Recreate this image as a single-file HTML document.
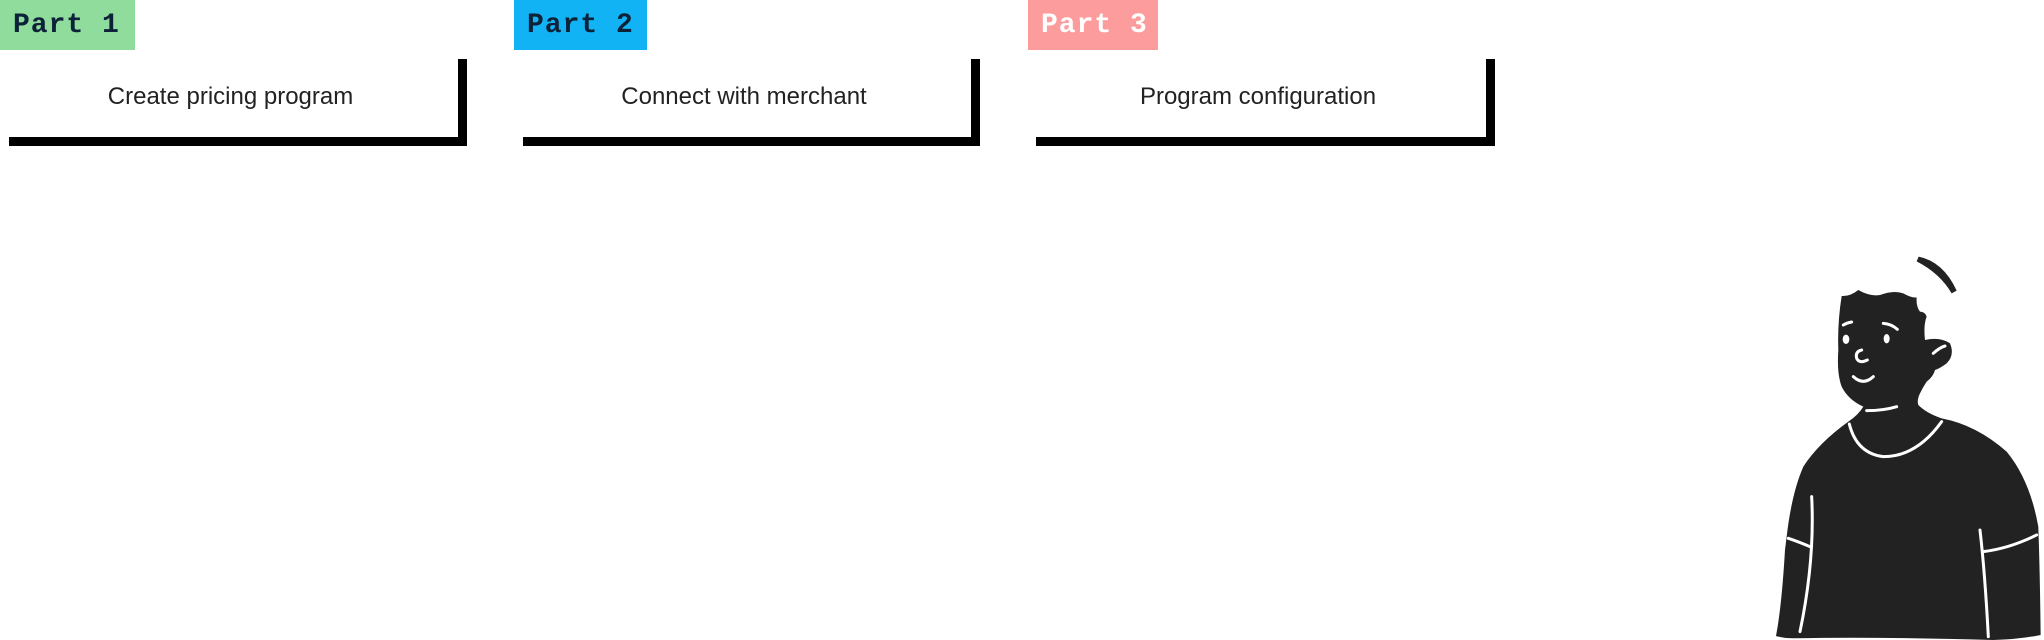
<!DOCTYPE html>
<html><head><meta charset="utf-8"><style>
body{margin:0;width:2044px;height:640px;background:#fff;position:relative;overflow:hidden;font-family:"Liberation Sans",sans-serif}
.tag{position:absolute;top:0;height:50px;font-family:"Liberation Mono",monospace;font-weight:bold;font-size:28px;line-height:52px;padding-left:13px;box-sizing:border-box;letter-spacing:1px}
.box{position:absolute;top:59px;height:87px;border-right:9px solid #000;border-bottom:9px solid #000;box-sizing:border-box;text-align:center;font-size:24px;line-height:76px;color:#222;padding-right:6px}
</style></head><body>
<div class="tag" style="left:0;width:135px;background:#8fdc9c;color:#0d2238">Part 1</div>
<div class="tag" style="left:514px;width:133px;background:#12b3f4;color:#0d2238">Part 2</div>
<div class="tag" style="left:1028px;width:130px;background:#fd9c9c;color:#fff">Part 3</div>
<div class="box" style="left:9px;width:458px">Create pricing program</div>
<div class="box" style="left:523px;width:457px">Connect with merchant</div>
<div class="box" style="left:1036px;width:459px">Program configuration</div>
<svg width="2044" height="640" style="position:absolute;left:0;top:0">
<g transform="translate(1760,240) scale(0.3333)">
<path d="M476,50 Q550,65 590,152 L575,160 Q540,100 470,64 Z" fill="#222"/>
<path d="M245,168 Q270,170 295,150 Q330,170 360,165 Q400,150 430,160 Q455,175 470,172 Q468,200 480,215 Q495,215 500,230 Q490,255 495,300 Q540,290 570,310 Q585,345 560,370 Q540,385 525,390 Q520,410 500,425 Q490,440 480,460 Q470,480 475,495 Q500,520 545,535 Q650,555 740,635 Q810,720 835,860 Q840,1000 842,1185 Q780,1198 700,1200 Q350,1190 100,1195 Q70,1195 48,1188 Q65,1100 75,930 L80,890 Q95,760 130,680 Q175,610 265,545 Q295,525 310,500 Q265,480 245,440 Q230,400 235,330 Q232,250 245,168 Z" fill="#222"/>
<g stroke="#fff" stroke-width="9" fill="none" stroke-linecap="round">
<path d="M250,255 Q262,248 275,246"/>
<path d="M370,250 Q395,252 412,268"/>
<path d="M305,330 Q285,335 290,355 Q298,372 322,360"/>
<path d="M280,410 Q310,438 340,410"/>
<path d="M520,340 Q540,322 555,318"/>
<path d="M320,512 Q370,512 410,500"/>
<path d="M268,552 Q290,640 370,650 Q470,650 545,545"/>
<path d="M85,895 Q115,905 150,920"/>
<path d="M670,935 Q750,925 830,885"/>
<path d="M155,770 Q165,960 120,1175"/>
<path d="M660,870 Q675,1000 685,1190"/>
</g>
<g fill="#fff"><ellipse cx="258" cy="298" rx="10" ry="14"/><ellipse cx="380" cy="296" rx="9" ry="14"/></g>
</g>
</svg>
</body></html>
